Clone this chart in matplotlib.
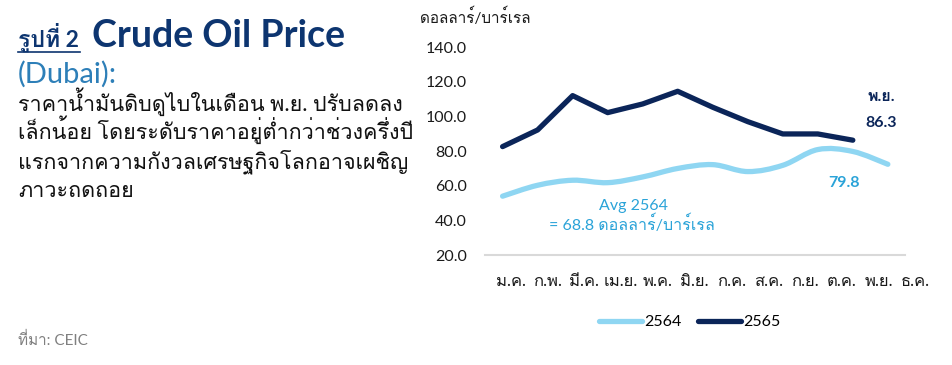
import matplotlib
matplotlib.use('Agg')
import matplotlib.pyplot as plt
import matplotlib.transforms as mtransforms
from matplotlib import font_manager
from matplotlib.ft2font import FT2Font
from matplotlib.path import Path
from matplotlib.patches import PathPatch
from matplotlib.lines import Line2D

# Find an installed font that has Thai glyphs
thai_font = None
for f in font_manager.fontManager.ttflist:
    try:
        if 0x0E01 in FT2Font(f.fname).get_charmap():
            thai_font = f.name
            break
    except Exception:
        pass
fams = ['Lato'] + ([thai_font] if thai_font else []) + ['DejaVu Sans']
plt.rcParams['font.family'] = fams

# Colors
navy = '#0b2559'
light_blue = '#8fd6f2'
label_blue = '#2aa3d8'
title_blue = '#0d3570'
sub_blue = '#2d7fb8'

# Data (USD per barrel, Dubai crude)
months = ['ม.ค.', 'ก.พ.', 'มี.ค.', 'เม.ย.', 'พ.ค.', 'มิ.ย.', 'ก.ค.', 'ส.ค.', 'ก.ย.', 'ต.ค.', 'พ.ย.', 'ธ.ค.']
price_2564 = [54.0, 60.3, 63.2, 61.8, 65.1, 70.0, 72.2, 68.2, 71.8, 80.9, 79.8, 72.4]
price_2565 = [82.6, 92.2, 112.0, 102.2, 107.2, 114.5, 105.3, 97.0, 89.9, 89.9, 86.3]
y_ticks = [20, 40, 60, 80, 100, 120, 140]

fig = plt.figure(figsize=(9.53, 3.65), dpi=100)
ax = fig.add_axes([0.509, 0.301, 0.441, 0.570])


def smooth_path(xs, ys):
    """Bezier path through the points (Excel-style smoothed line)."""
    pts = list(zip(xs, ys))
    verts = [pts[0]]
    codes = [Path.MOVETO]
    n = len(pts)
    for i in range(n - 1):
        p0 = pts[i - 1] if i > 0 else pts[i]
        p1 = pts[i]
        p2 = pts[i + 1]
        p3 = pts[i + 2] if i + 2 < n else pts[i + 1]
        c1 = (p1[0] + (p2[0] - p0[0]) / 6, p1[1] + (p2[1] - p0[1]) / 6)
        c2 = (p2[0] - (p3[0] - p1[0]) / 6, p2[1] - (p3[1] - p1[1]) / 6)
        verts += [c1, c2, p2]
        codes += [Path.CURVE4] * 3
    return Path(verts, codes)


x1 = list(range(len(price_2564)))
x2 = list(range(len(price_2565)))
ax.add_patch(PathPatch(smooth_path(x1, price_2564), fill=False, edgecolor=light_blue,
                       lw=3.8, capstyle='round', joinstyle='round'))
ax.plot(x2, price_2565, color=navy, lw=3.8, solid_capstyle='round', solid_joinstyle='round')

ax.set_xlim(-0.5, 11.5)
ax.set_ylim(20, 140)
ax.set_yticks(y_ticks)
ax.set_yticklabels([f'{v:.1f}' for v in y_ticks])
ax.set_xticks(range(len(months)))
ax.set_xticklabels(months)
ax.tick_params(axis='both', length=0, labelsize=11.5, colors='#1a1a1a')
ax.tick_params(axis='x', labelsize=12, pad=13)
ax.tick_params(axis='y', pad=13)
for s in ['top', 'right', 'left']:
    ax.spines[s].set_visible(False)
ax.spines['bottom'].set_color('#d9d9d9')
ax.spines['bottom'].set_linewidth(1.5)

# month labels in the original are spread a bit wider than the plotted points
for i, lbl in enumerate(ax.get_xticklabels()):
    shift = mtransforms.ScaledTranslation((8 + 1.8 * i) / 100, 0, fig.dpi_scale_trans)
    lbl.set_transform(lbl.get_transform() + shift)

# Annotations
ax.text(10.8, 111, 'พ.ย.', color=navy, fontsize=11.5, fontweight='bold', ha='center', va='center')
ax.text(10.8, 96.5, f'{price_2565[10]:.1f}', color=navy, fontsize=11.5, fontweight='bold', ha='center', va='center')
ax.text(9.75, 61.5, f'{price_2564[10]:.1f}', color=label_blue, fontsize=11.5, fontweight='bold', ha='center', va='center')
ax.text(3.75, 48.5, 'Avg 2564', color=label_blue, fontsize=11.5, ha='center', va='center')
ax.text(3.7, 38, '= 68.8 ดอลลาร์/บาร์เรล', color=label_blue, fontsize=11.5, ha='center', va='center')

# Unit label
fig.text(0.441, 0.955, 'ดอลลาร์/บาร์เรล', fontsize=11, color='#1a1a1a', ha='left', va='center')

# Legend
handles = [Line2D([], [], color=light_blue, lw=3.8, solid_capstyle='round'),
           Line2D([], [], color=navy, lw=3.8, solid_capstyle='round')]
fig.legend(handles, ['2564', '2565'], loc='center', bbox_to_anchor=(0.724, 0.117), ncol=2,
           frameon=False, fontsize=11.5, handlelength=2.7, handletextpad=0.15, columnspacing=1.0)

# Left text block
fig.text(0.019, 0.871, 'รูปที่ 2', fontsize=16.5, color=title_blue, fontweight='bold', va='baseline')
fig.add_artist(Line2D([0.019, 0.084], [0.858, 0.858], color=title_blue, lw=1.2))
fig.text(0.0965, 0.871, 'Crude Oil Price', fontsize=27, color=title_blue, fontweight='bold', va='baseline')
fig.text(0.019, 0.773, '(Dubai):', fontsize=21, color=sub_blue, va='baseline')
body = ['ราคาน้ำมันดิบดูไบในเดือน พ.ย. ปรับลดลง',
        'เล็กน้อย โดยระดับราคาอยู่ต่ำกว่าช่วงครึ่งปี',
        'แรกจากความกังวลเศรษฐกิจโลกอาจเผชิญ',
        'ภาวะถดถอย']
for i, line in enumerate(body):
    fig.text(0.019, 0.697 - i * 0.0786, line, fontsize=15.5, color='#111111', va='baseline')

fig.text(0.019, 0.055, 'ที่มา: CEIC', fontsize=11, color='#808080', va='baseline')

fig.savefig('out.png', dpi=100)
